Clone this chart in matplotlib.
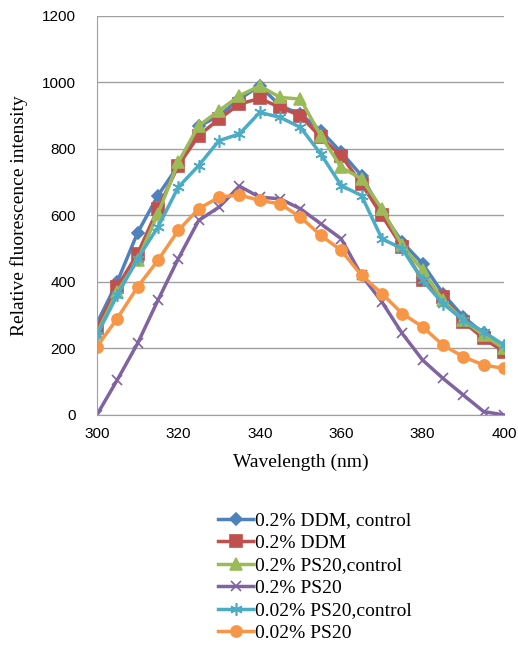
import numpy as np
import matplotlib.pyplot as plt

# Wavelength (nm)
wavelength = [300, 305, 310, 315, 320, 325, 330, 335, 340, 345, 350,
              355, 360, 365, 370, 375, 380, 385, 390, 395, 400]

ddm_control = [275, 400, 548, 660, 750, 868, 900, 950, 990, 930, 905,
               855, 790, 720, 610, 520, 455, 365, 295, 245, 205]
ddm = [260, 385, 485, 620, 750, 840, 890, 935, 952, 925, 900,
       835, 780, 695, 600, 505, 405, 355, 280, 230, 190]
ps20_control = [245, 370, 465, 605, 760, 870, 915, 960, 990, 955, 950,
                840, 745, 710, 620, 510, 435, 345, 285, 240, 200]
ps20 = [0, 105, 215, 345, 470, 585, 625, 688, 655, 650, 620,
        575, 530, 420, 340, 245, 165, 110, 60, 10, 0]
ps20_002_control = [240, 360, 470, 565, 685, 750, 825, 845, 910, 895, 865,
                    785, 690, 660, 530, 500, 405, 335, 285, 250, 210]
ps20_002 = [205, 290, 385, 465, 555, 620, 655, 662, 645, 635, 595,
            540, 495, 420, 365, 305, 265, 210, 175, 150, 140]

series = [
    ("0.2% DDM, control", ddm_control, "#4F81BD", "D", 6),
    ("0.2% DDM", ddm, "#C0504D", "s", 8),
    ("0.2% PS20,control", ps20_control, "#9BBB59", "^", 8),
    ("0.2% PS20", ps20, "#8064A2", "x", 7),
    ("0.02% PS20,control", ps20_002_control, "#4BACC6", (6, 2, 0), 9),
    ("0.02% PS20", ps20_002, "#F79646", "o", 8),
]

fig = plt.figure(figsize=(5.18, 6.66), dpi=100)
ax = fig.add_axes([0.187, 0.377, 0.786, 0.599])

for label, vals, color, marker, ms in series:
    ax.plot(wavelength, vals, color=color, lw=2.5, marker=marker, ms=ms,
            mew=1.2, label=label)

ax.set_xlim(300, 400)
ax.set_ylim(0, 1200)
ax.set_xticks(range(300, 401, 20))
ax.set_yticks(range(0, 1201, 200))
ax.yaxis.grid(True, color="#A0A0A0", lw=1)
ax.set_axisbelow(True)
for s in ["top", "right"]:
    ax.spines[s].set_visible(False)
for s in ["left", "bottom"]:
    ax.spines[s].set_color("#A0A0A0")
ax.tick_params(axis="y", length=0, pad=15, labelsize=11)
ax.tick_params(axis="x", length=0, pad=9, labelsize=11)
for t in ax.get_xticklabels() + ax.get_yticklabels():
    t.set_family("Liberation Sans")

ax.set_xlabel("Wavelength (nm)", family="Liberation Serif", fontsize=14, labelpad=9)
ax.set_ylabel("Relative fluorescence intensity", family="Liberation Serif",
              fontsize=14, labelpad=10)

fig.legend(loc="upper left", bbox_to_anchor=(0.403, 0.246), frameon=False,
           prop={"family": "Liberation Serif", "size": 14},
           handlelength=1.8, handletextpad=0.1, labelspacing=0.25,
           borderpad=0)

fig.savefig("out.png", dpi=100)
